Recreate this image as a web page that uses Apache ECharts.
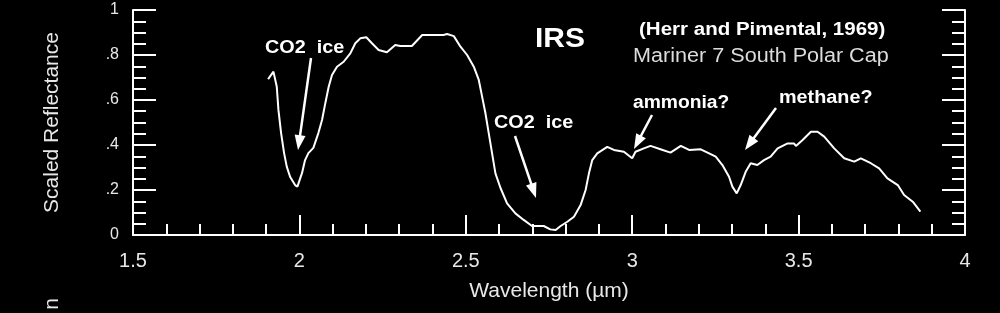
<!DOCTYPE html>
<html>
<head>
<meta charset="utf-8">
<script src="https://cdn.jsdelivr.net/npm/echarts@6/dist/echarts.min.js"></script>
<style>
html,body{margin:0;padding:0;background:#000;}
#chart{width:1000px;height:313px;}
</style>
</head>
<body>
<div id="chart"></div>
<script>
// ---- data ----
const wavelength = [1.906,1.922,1.932,1.937,1.945,1.954,1.962,1.972,1.987,1.994,2.008,2.017,2.027,2.042,2.057,2.068,2.078,2.088,2.098,2.113,2.133,2.153,2.168,2.183,2.201,2.218,2.238,2.263,2.288,2.303,2.338,2.369,2.388,2.433,2.444,2.464,2.484,2.504,2.524,2.539,2.549,2.559,2.569,2.579,2.589,2.604,2.624,2.649,2.674,2.699,2.734,2.754,2.770,2.785,2.805,2.825,2.845,2.860,2.870,2.880,2.895,2.925,2.945,2.975,3.000,3.010,3.035,3.055,3.085,3.115,3.146,3.171,3.206,3.231,3.251,3.271,3.291,3.301,3.314,3.326,3.341,3.356,3.376,3.396,3.416,3.437,3.467,3.486,3.492,3.512,3.537,3.557,3.577,3.607,3.637,3.667,3.687,3.717,3.742,3.767,3.798,3.817,3.843,3.866];
const reflectance = [0.693,0.726,0.659,0.556,0.453,0.364,0.304,0.259,0.222,0.215,0.276,0.333,0.364,0.387,0.453,0.511,0.587,0.659,0.711,0.748,0.770,0.807,0.852,0.874,0.879,0.852,0.822,0.812,0.844,0.840,0.840,0.889,0.889,0.889,0.893,0.884,0.837,0.800,0.748,0.689,0.615,0.541,0.452,0.363,0.274,0.210,0.141,0.096,0.067,0.040,0.040,0.025,0.022,0.040,0.059,0.081,0.133,0.200,0.274,0.333,0.363,0.392,0.378,0.370,0.341,0.370,0.385,0.396,0.381,0.366,0.396,0.378,0.381,0.363,0.348,0.311,0.259,0.215,0.185,0.222,0.281,0.319,0.311,0.333,0.348,0.385,0.407,0.407,0.396,0.422,0.459,0.459,0.437,0.385,0.341,0.326,0.341,0.319,0.296,0.252,0.222,0.178,0.148,0.104];
const xTickLabels = ['1.5','2','2.5','3','3.5','4'];
const yTickLabels = ['0','.2','.4','.6','.8','1'];
const xTitle = 'Wavelength (\u00b5m)';
const yTitle = 'Scaled Reflectance';

const chart = echarts.init(document.getElementById('chart'), null, {renderer:'canvas'});
const FONT = '"Liberation Sans", Arial, sans-serif';
const WHITE = '#ffffff';
const LABEL = '#e8e8e8';

function yAxisCfg(pos, showLabel){
  return {
    type:'value', position:pos, min:0, max:1, interval:0.2,
    axisLine:{show:true, onZero:false, lineStyle:{color:WHITE, width:2}},
    axisTick:{show:true, inside:true, length:23, lineStyle:{color:WHITE, width:2}},
    minorTick:{show:true, splitNumber:4, length:13, lineStyle:{color:WHITE, width:2}},
    splitLine:{show:false}, minorSplitLine:{show:false},
    axisLabel:{show:showLabel, color:LABEL, fontSize:16, fontFamily:FONT, margin:14,
      formatter:function(v){ return yTickLabels[Math.round(v/0.2)]; }},
    name: showLabel ? yTitle : '',
    nameLocation:'middle', nameGap:70,
    nameTextStyle:{color:LABEL, fontSize:21, fontFamily:FONT}
  };
}

const option = {
  backgroundColor:'#000',
  animation:false,
  grid:{left:133, right:35, top:10, bottom:78},
  xAxis:{
    type:'value', min:1.5, max:4, interval:0.5,
    axisLine:{show:true, onZero:false, lineStyle:{color:WHITE, width:2}},
    axisTick:{show:true, inside:true, length:20, lineStyle:{color:WHITE, width:2}},
    minorTick:{show:true, splitNumber:5, length:11, lineStyle:{color:WHITE, width:2}},
    splitLine:{show:false}, minorSplitLine:{show:false},
    axisLabel:{color:LABEL, fontSize:20, fontFamily:FONT, margin:16,
      formatter:function(v){ return xTickLabels[Math.round((v-1.5)/0.5)]; }},
    name:xTitle, nameLocation:'middle', nameGap:46,
    nameTextStyle:{color:LABEL, fontSize:21, fontFamily:FONT}
  },
  yAxis:[yAxisCfg('left', true), yAxisCfg('right', false)],
  series:[{
    type:'line',
    data: wavelength.map((w,i)=>[w, reflectance[i]]),
    showSymbol:false, symbol:'none', smooth:false,
    lineStyle:{color:WHITE, width:2},
    yAxisIndex:0
  }]
};
chart.setOption(option);

// ---- annotations ----
function arrow(x1,y1,x2,y2){
  const dx=x2-x1, dy=y2-y1, L=Math.sqrt(dx*dx+dy*dy);
  const ux=dx/L, uy=dy/L, hl=15, hw=5.5;
  const bx=x2-ux*hl, by=y2-uy*hl;
  return [
    {type:'line', shape:{x1:x1,y1:y1,x2:bx+ux*2,y2:by+uy*2}, style:{stroke:WHITE, lineWidth:2.5}},
    {type:'polygon', shape:{points:[[x2,y2],[bx-uy*hw,by+ux*hw],[bx+uy*hw,by-ux*hw]]}, style:{fill:WHITE}}
  ];
}
function label(text,x,y,size,weight,color,sx){
  return {type:'text', x:x, y:y, scaleX:sx||1, originX:0, originY:0,
    style:{text:text, fill:color||WHITE, font:(weight||'bold')+' '+size+'px '+FONT,
      textAlign:'left', textVerticalAlign:'middle'}};
}
const g = [
  label('CO2  ice', 265, 48, 18, 'bold', WHITE, 1.1),
  label('IRS', 535, 39, 28, 'bold', WHITE, 1.07),
  label('CO2  ice', 494, 123, 18, 'bold', WHITE, 1.1),
  label('(Herr and Pimental, 1969)', 639, 30, 18, 'bold', WHITE, 1.14),
  label('Mariner 7 South Polar Cap', 633, 56, 20, 'normal', '#dcdcdc', 1.08),
  label('ammonia?', 633, 103, 18, 'bold', WHITE, 1.07),
  label('methane?', 779, 98, 18, 'bold', WHITE, 1.1),
  {type:'text', x:52, y:304, rotation:Math.PI/2, style:{text:'n', fill:LABEL, font:'21px '+FONT, textAlign:'center', textVerticalAlign:'middle'}}
].concat(
  arrow(311,58,298,150),
  arrow(515,136,536,198),
  arrow(652,115,634,149),
  arrow(776,108,745,150)
);
chart.setOption({graphic:{elements:g}});
</script>
</body>
</html>
